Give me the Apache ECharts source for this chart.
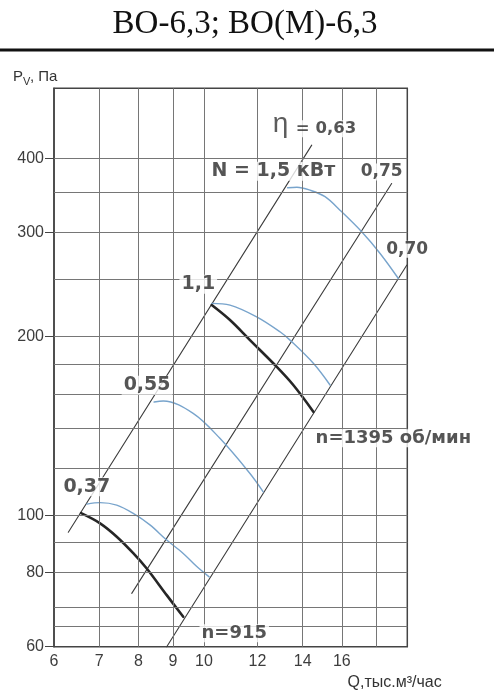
<!DOCTYPE html>
<html><head><meta charset="utf-8">
<script src="https://cdn.jsdelivr.net/npm/echarts@6/dist/echarts.min.js"></script>
<style>html,body{margin:0;padding:0;background:#fff}#c{width:494px;height:700px}</style>
</head><body><div id="c"></div>
<script>
// axis ticks / grid values
const xTicks = [6, 7, 8, 9, 10, 12, 14, 16];
const yTicks = [60, 80, 100, 200, 300, 400];
const xGrid = [7, 8, 9, 10, 12, 14, 16, 18];
const yGrid = [65, 70, 80, 90, 100, 120, 140, 160, 180, 200, 250, 300, 350, 400];

// efficiency lines (Q, Pv)
const eta063 = [[6.30, 93.6], [14.44, 421]];
const eta075 = [[7.82, 73.8], [18.96, 362.7]];
const eta070 = [[8.81, 60], [19.96, 264.1]];

// fan curves for motor power N
const curveN037 = [[6.71,104.4],[7.02,105.0],[7.43,104.0],[7.86,100.7],[8.32,96.3],[8.81,90.8],[9.32,86.2],[9.76,81.9],[10.18,78.7]];
const curveN055 = [[8.44,155.2],[8.71,155.8],[9.64,148.5],[10.56,134.8],[11.70,117.6],[12.24,109.5]];
const curveN11  = [[10.27,227.7],[10.93,226.2],[11.97,216.1],[12.96,203.9],[13.41,197.4],[14.52,180.4],[15.37,165.8]];
const curveN15  = [[13.30,356.8],[13.73,357.5],[14.36,353.4],[15.11,344.6],[15.90,327.0],[17.12,300.7],[18.23,276.4],[19.40,250.8]];

// working zones
const work915  = [[6.58,100.8],[7.02,96.9],[7.43,92.0],[7.86,86.3],[8.23,81.3],[8.81,73.3],[9.32,67.4]];
const work1395 = [[10.27,226.2],[10.93,213.4],[11.70,197.4],[12.74,179.2],[13.56,165.8],[14.52,149.5]];

// annotation texts and their anchors (Q, Pv)
const noteTexts = ['0,37', '0,55', '1,1', 'N = 1,5 кВт', 'η', '= 0,63', '0,75', '0,70', 'n=1395 об/мин', 'n=915'];
const noteQ = [6.71, 8.24, 9.81, 12.67, 12.98, 15.16, 18.33, 19.99, 19.07, 11.09];
const noteP = [111.7, 165.6, 245.3, 380.4, 456, 448.7, 379.4, 281.0, 134.9, 63.2];

const noteSize = [19, 19, 19, 19, 28, 16.5, 17, 17, 18, 18];

const chart = echarts.init(document.getElementById('c'), null, {renderer: 'canvas'});

const lineSeries = (data, color, width, smooth, z) => ({
  type: 'line', data: data, showSymbol: false, symbol: 'none', smooth: smooth,
  lineStyle: {color: color, width: width, cap: 'round', join: 'round'}, z: z, silent: true, animation: false, clip: false
});

const gridLineStyle = {color: '#767676', width: 1, type: 'solid'};

const option = {
  animation: false,
  grid: {left: 54, right: 86.7, top: 88.3, bottom: 53.3, show: true,
         borderColor: '#444', borderWidth: 1.5, backgroundColor: 'transparent',
         containLabel: false, outerBoundsMode: 'none'},
  xAxis: {
    type: 'log', logBase: 10, min: 6, max: 20,
    axisLine: {show: false}, axisTick: {show: false}, splitLine: {show: false}, minorSplitLine: {show: false},
    axisLabel: {customValues: xTicks, formatter: v => String(Math.round(v)), fontFamily: 'Liberation Sans',
                fontSize: 16, color: '#3d3d3d', margin: 7}
  },
  yAxis: {
    type: 'log', logBase: 10, min: 60, max: 525,
    axisLine: {show: true, lineStyle: {color: '#444', width: 1.5}},
    axisTick: {show: true, length: 9, customValues: yTicks, lineStyle: {color: '#444', width: 1}},
    splitLine: {show: false},
    axisLabel: {customValues: yTicks, formatter: v => String(Math.round(v)), fontFamily: 'Liberation Sans',
                fontSize: 16, color: '#3d3d3d', margin: 10}
  },
  graphic: [
    {type: 'text', x: 245, y: 24, style: {text: 'ВО-6,3; ВО(М)-6,3', font: '33px "Liberation Serif"', fill: '#111',
      textAlign: 'center', textVerticalAlign: 'middle'}},
    {type: 'line', shape: {x1: 0, y1: 50, x2: 494, y2: 50}, style: {stroke: '#111', lineWidth: 3}},
    {type: 'text', x: 13, y: 76.5, style: {text: 'P', font: '15px "Liberation Sans"', fill: '#333', textAlign: 'left', textVerticalAlign: 'middle'}},
    {type: 'text', x: 23, y: 81.5, style: {text: 'V', font: '11px "Liberation Sans"', fill: '#333', textAlign: 'left', textVerticalAlign: 'middle'}},
    {type: 'text', x: 30, y: 76.5, style: {text: ', Па', font: '15px "Liberation Sans"', fill: '#333', textAlign: 'left', textVerticalAlign: 'middle'}},
    {type: 'text', x: 441.7, y: 683, style: {text: 'Q,тыс.м³/час', font: '16px "Liberation Sans"', fill: '#333', textAlign: 'right', textVerticalAlign: 'middle'}}
  ],
  series: [
    {
      type: 'line', data: [], silent: true, z: 1,
      markLine: {
        silent: true, symbol: ['none', 'none'], label: {show: false}, animation: false,
        lineStyle: gridLineStyle, emphasis: {disabled: true},
        data: xGrid.map(v => ({xAxis: v})).concat(yGrid.map(v => ({yAxis: v})))
      }
    },
    lineSeries(eta063, '#3c3c3c', 1.1, false, 2),
    lineSeries(eta075, '#3c3c3c', 1.1, false, 2),
    lineSeries(eta070, '#3c3c3c', 1.1, false, 2),
    lineSeries(curveN037, '#78a4cc', 1.4, 0.35, 3),
    lineSeries(curveN055, '#78a4cc', 1.4, 0.35, 3),
    lineSeries(curveN11, '#78a4cc', 1.4, 0.35, 3),
    lineSeries(curveN15, '#78a4cc', 1.4, 0.35, 3),
    lineSeries(work915, '#262626', 2.6, 0.35, 4),
    lineSeries(work1395, '#262626', 2.6, 0.35, 4),
    {
      type: 'scatter', symbolSize: 0, z: 10, silent: true, clip: false,
      data: noteTexts.map((t, i) => ({
        value: [noteQ[i], noteP[i]],
        label: {
          show: true, position: 'inside', formatter: t,
          fontFamily: t === 'η' ? 'Liberation Sans' : 'DejaVu Sans',
          fontWeight: t === 'η' ? 'normal' : 'bold',
          fontSize: noteSize[i], color: t === 'η' ? '#333' : '#2b2b2b',
          backgroundColor: t === 'η' ? 'transparent' : '#fff', padding: [0, 2]
        }
      }))
    }
  ]
};
chart.setOption(option);
</script></body></html>
